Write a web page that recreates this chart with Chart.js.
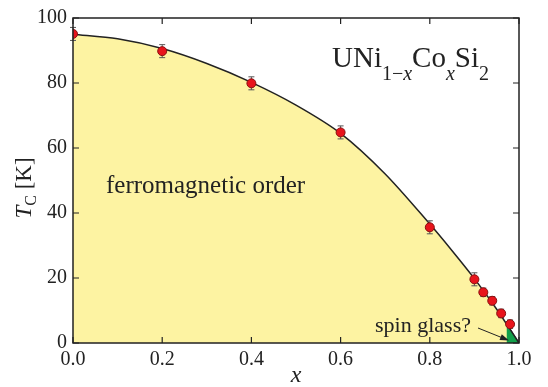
<!DOCTYPE html>
<html>
<head>
<meta charset="utf-8">
<script src="https://cdn.jsdelivr.net/npm/chart.js@4"></script>
<style>
  html, body { margin: 0; padding: 0; background: #fff; }
  #wrap { width: 548px; height: 387px; }
</style>
</head>
<body>
<div id="wrap"><canvas id="tcChart" width="548" height="387"></canvas></div>
<script>
// measured Tc points with error bars
const xValues = [0, 0.2, 0.4, 0.6, 0.8, 0.9, 0.92, 0.94, 0.96, 0.98];
const tcValues = [95.1, 89.8, 79.9, 64.8, 35.6, 19.6, 15.6, 13.0, 9.1, 5.8];
const tcErrors = [2, 2, 2, 2, 2, 2, 1.3, 1.3, 1.3, 1.3];

// phase boundary line
const curveX = [0, 0.1, 0.2, 0.3, 0.4, 0.5, 0.6, 0.7, 0.8, 0.85, 0.9, 0.95, 1.0];
const curveY = [95, 93.6, 90.6, 86, 80.2, 73.2, 64.5, 52, 36.6, 28.4, 19.8, 10.4, 0];

// spin glass corner
const glassX = [0.972, 1.0];
const glassY = [5.9, 0];

const xTicks = [0, 0.2, 0.4, 0.6, 0.8, 1.0];
const yTicks = [0, 20, 40, 60, 80, 100];

const SERIF = '"Liberation Serif", "Times New Roman", serif';

const toPts = (xs, ys) => xs.map((x, i) => ({ x: x, y: ys[i] }));

// error bars, frame with inward ticks, and the annotations
const decor = {
  id: 'decor',
  beforeDatasetDraw(chart, args) {
    if (args.index !== 0) return;
    const ctx = chart.ctx, xs = chart.scales.x, ys = chart.scales.y;
    ctx.save();
    ctx.strokeStyle = '#555';
    ctx.lineWidth = 1;
    xValues.forEach((x, i) => {
      const px = xs.getPixelForValue(x);
      const top = ys.getPixelForValue(tcValues[i] + tcErrors[i]);
      const bot = ys.getPixelForValue(tcValues[i] - tcErrors[i]);
      ctx.beginPath();
      ctx.moveTo(px, top); ctx.lineTo(px, bot);
      ctx.moveTo(px - 3, top); ctx.lineTo(px + 3, top);
      ctx.moveTo(px - 3, bot); ctx.lineTo(px + 3, bot);
      ctx.stroke();
    });
    ctx.restore();
  },
  afterDatasetsDraw(chart) {
    const ctx = chart.ctx, a = chart.chartArea;
    const xs = chart.scales.x, ys = chart.scales.y;
    ctx.save();

    // frame
    ctx.strokeStyle = '#222';
    ctx.lineWidth = 1.5;
    ctx.strokeRect(a.left, a.top, a.right - a.left, a.bottom - a.top);

    // inward ticks on all four sides
    ctx.lineWidth = 1.2;
    ctx.beginPath();
    xTicks.forEach(v => {
      const px = xs.getPixelForValue(v);
      ctx.moveTo(px, a.bottom); ctx.lineTo(px, a.bottom - 6);
      ctx.moveTo(px, a.top); ctx.lineTo(px, a.top + 6);
    });
    yTicks.forEach(v => {
      const py = ys.getPixelForValue(v);
      ctx.moveTo(a.left, py); ctx.lineTo(a.left + 6, py);
      ctx.moveTo(a.right, py); ctx.lineTo(a.right - 6, py);
    });
    ctx.stroke();

    ctx.fillStyle = '#222';
    ctx.textBaseline = 'alphabetic';

    // region labels
    ctx.font = '25px ' + SERIF;
    ctx.textAlign = 'left';
    ctx.fillText('ferromagnetic order', 106, 193);

    ctx.font = '22px ' + SERIF;
    ctx.textAlign = 'right';
    ctx.fillText('spin glass?', 471, 332);

    // arrow to the spin glass corner
    const x1 = 478, y1 = 328, x2 = 509, y2 = 340.5;
    const ang = Math.atan2(y2 - y1, x2 - x1);
    ctx.strokeStyle = '#222';
    ctx.lineWidth = 1;
    ctx.beginPath();
    ctx.moveTo(x1, y1);
    ctx.lineTo(x2 - 7 * Math.cos(ang), y2 - 7 * Math.sin(ang));
    ctx.stroke();
    ctx.beginPath();
    ctx.moveTo(x2, y2);
    ctx.lineTo(x2 - 9 * Math.cos(ang) + 3 * Math.sin(ang), y2 - 9 * Math.sin(ang) - 3 * Math.cos(ang));
    ctx.lineTo(x2 - 9 * Math.cos(ang) - 3 * Math.sin(ang), y2 - 9 * Math.sin(ang) + 3 * Math.cos(ang));
    ctx.closePath();
    ctx.fill();

    // compound formula UNi(1-x)Co(x)Si(2)
    ctx.textAlign = 'left';
    const parts = [
      ['UNi', '29px ' + SERIF, 0],
      ['1\u2212', '20px ' + SERIF, 13],
      ['x', 'italic 20px ' + SERIF, 13],
      ['Co', '29px ' + SERIF, 0],
      ['x', 'italic 20px ' + SERIF, 13],
      ['Si', '29px ' + SERIF, 0],
      ['2', '20px ' + SERIF, 13]
    ];
    let cx = 332;
    parts.forEach(p => {
      ctx.font = p[1];
      ctx.fillText(p[0], cx, 67 + p[2]);
      cx += ctx.measureText(p[0]).width;
    });

    // axis titles
    ctx.font = 'italic 24px ' + SERIF;
    ctx.textAlign = 'center';
    ctx.fillText('x', (a.left + a.right) / 2, 382);

    ctx.translate(31, 188);
    ctx.rotate(-Math.PI / 2);
    ctx.textAlign = 'left';
    ctx.font = 'italic 23px ' + SERIF;
    const wT = ctx.measureText('T').width;
    ctx.font = '16px ' + SERIF;
    const wC = ctx.measureText('C').width;
    ctx.font = '23px ' + SERIF;
    const wK = ctx.measureText(' [K]').width;
    let tx = -(wT + wC + wK) / 2;
    ctx.font = 'italic 23px ' + SERIF;
    ctx.fillText('T', tx, 0);
    tx += wT;
    ctx.font = '16px ' + SERIF;
    ctx.fillText('C', tx, 5);
    tx += wC;
    ctx.font = '23px ' + SERIF;
    ctx.fillText(' [K]', tx, 0);

    ctx.restore();
  }
};

new Chart(document.getElementById('tcChart'), {
  type: 'line',
  data: {
    datasets: [
      {
        label: 'Tc data',
        data: toPts(xValues, tcValues),
        showLine: false,
        pointRadius: 4.5,
        pointBackgroundColor: '#e8141c',
        pointBorderColor: '#8a1010',
        pointBorderWidth: 1,
        order: 0
      },
      {
        label: 'spin glass',
        data: toPts(glassX, glassY),
        borderColor: '#222',
        borderWidth: 1.5,
        backgroundColor: '#12a04a',
        fill: 'origin',
        pointRadius: 0,
        order: 1
      },
      {
        label: 'boundary',
        data: toPts(curveX, curveY),
        borderColor: '#222',
        borderWidth: 1.5,
        backgroundColor: '#fdf3a2',
        fill: 'origin',
        tension: 0.3,
        pointRadius: 0,
        order: 2
      }
    ]
  },
  options: {
    responsive: false,
    animation: false,
    layout: { padding: { top: 16, right: 29, left: 0, bottom: 0 } },
    plugins: {
      legend: { display: false },
      tooltip: { enabled: false }
    },
    scales: {
      x: {
        type: 'linear',
        min: 0,
        max: 1,
        afterBuildTicks: s => { s.ticks = xTicks.map(v => ({ value: v })); },
        afterFit: s => { s.height = 44; },
        grid: { display: false, drawTicks: false },
        border: { display: false },
        ticks: {
          padding: 5,
          color: '#222',
          font: { family: SERIF, size: 20 },
          maxRotation: 0,
          callback: v => v.toFixed(1)
        }
      },
      y: {
        type: 'linear',
        min: 0,
        max: 100,
        afterBuildTicks: s => { s.ticks = yTicks.map(v => ({ value: v })); },
        afterFit: s => { s.width = 73; },
        grid: { display: false, drawTicks: false },
        border: { display: false },
        ticks: {
          padding: 6,
          color: '#222',
          font: { family: SERIF, size: 20 }
        }
      }
    }
  },
  plugins: [decor]
});
</script>
</body>
</html>
